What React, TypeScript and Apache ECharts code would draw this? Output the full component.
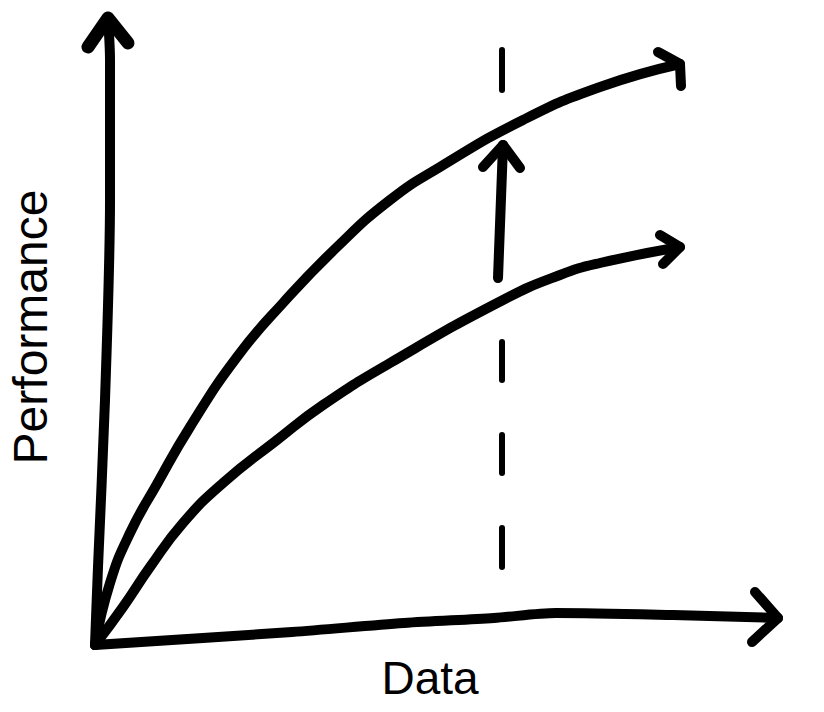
import React, { useEffect, useRef } from "react";
import * as echarts from "echarts";

// Coordinates are measured relative to the sketch origin (Data = 0, Performance = 0).
const xAxisLine: number[][] = [[0, 0], [197, 13], [309, 22], [399, 27], [461, 32], [578, 30], [683, 27]];
const yAxisLine: number[][] = [[0, 0], [3, 78], [10, 245], [15, 445], [15, 585], [13, 627]];
const upperCurve: number[][] = [
  [0, 0], [15, 62], [35, 112], [62, 161], [95, 218], [142, 288], [188, 342],
  [242, 398], [295, 445], [345, 478], [428, 525], [505, 558], [585, 581],
];
const lowerCurve: number[][] = [
  [0, 0], [28, 38], [55, 78], [88, 122], [128, 162], [182, 205], [228, 240],
  [295, 282], [408, 345], [465, 370], [505, 382], [585, 398],
];
const yArrowHead: number[][] = [[-7, 598], [13, 627], [33, 602]];
const xArrowHead: number[][] = [[660, 53], [683, 27], [657, 3]];
const upperArrowHead: number[][] = [[563, 593], [585, 581], [586, 559]];
const lowerArrowHead: number[][] = [[565, 410], [585, 398], [568, 381]];
const gainShaft: number[][] = [[403, 367], [408, 500]];
const gainHead: number[][] = [[388, 478], [408, 500], [425, 477]];
const dashX = 407;
const dashRanges: number[][] = [[595, 555], [303, 265], [210, 172], [117, 78]];

const xLabel = "Data";
const yLabel = "Performance";

export default function App() {
  const ref = useRef<HTMLDivElement>(null);
  useEffect(() => {
    if (!ref.current) return;
    const chart = echarts.init(ref.current, undefined, { renderer: "svg" });
    const stroke = (data: number[][], smooth: number | boolean, width = 10) => ({
      type: "line",
      data,
      smooth,
      symbol: "none",
      silent: true,
      lineStyle: { color: "#000", width, cap: "round", join: "round" },
    });
    const series: any[] = [
      stroke(xAxisLine, 0.3),
      stroke(yAxisLine, 0.3),
      stroke(upperCurve, 0.5),
      stroke(lowerCurve, 0.5),
      stroke(yArrowHead, false, 13),
      stroke(xArrowHead, false),
      stroke(upperArrowHead, false),
      stroke(lowerArrowHead, false),
      stroke(gainShaft, false),
      stroke(gainHead, false),
      ...dashRanges.map((r) => stroke([[dashX, r[0]], [dashX, r[1]]], false, 6)),
    ];
    chart.setOption({
      animation: false,
      backgroundColor: "#fff",
      grid: { left: 0, right: 0, top: 0, bottom: 0 },
      xAxis: { type: "value", min: -95, max: 729, show: false },
      yAxis: { type: "value", min: -67, max: 645, show: false },
      series,
      graphic: [
        {
          type: "text",
          x: 30,
          y: 327,
          rotation: Math.PI / 2,
          style: {
            text: yLabel,
            fontFamily: "Liberation Sans, Arial, sans-serif",
            fontSize: 48,
            fill: "#000",
            align: "center",
            verticalAlign: "middle",
          },
        },
        {
          type: "text",
          x: 430,
          y: 678,
          style: {
            text: xLabel,
            fontFamily: "Liberation Sans, Arial, sans-serif",
            fontSize: 46,
            fill: "#000",
            align: "center",
            verticalAlign: "middle",
          },
        },
      ],
    });
    return () => chart.dispose();
  }, []);
  return (
    <div
      ref={ref}
      style={{ position: "absolute", left: 0, top: 0, width: 824, height: 712 }}
    />
  );
}
